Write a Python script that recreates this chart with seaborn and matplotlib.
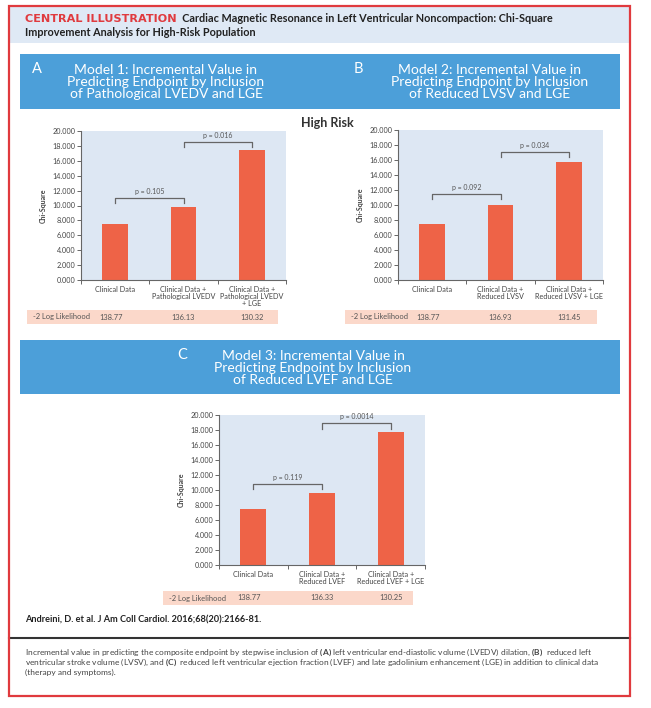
import matplotlib
matplotlib.use("Agg")
import matplotlib.pyplot as plt
import seaborn as sns
from matplotlib.patches import Rectangle
from matplotlib.ticker import FuncFormatter, FixedLocator
from matplotlib.transforms import blended_transform_factory

# --- data ---
cats_a = ["Clinical Data", "Clinical Data +\nPathological LVEDV", "Clinical Data +\nPathological LVEDV\n+ LGE"]
chi_a = [7.5, 9.8, 17.4]
loglik_a = ["138.77", "136.13", "130.32"]
pval_a = ["p = 0.105", "p = 0.016"]

cats_b = ["Clinical Data", "Clinical Data +\nReduced LVSV", "Clinical Data +\nReduced LVSV + LGE"]
chi_b = [7.5, 10.0, 15.8]
loglik_b = ["138.77", "136.93", "131.45"]
pval_b = ["p = 0.092", "p = 0.034"]

cats_c = ["Clinical Data", "Clinical Data +\nReduced LVEF", "Clinical Data +\nReduced LVEF + LGE"]
chi_c = [7.5, 9.55, 17.8]
loglik_c = ["138.77", "136.33", "130.25"]
pval_c = ["p = 0.119", "p = 0.0014"]

yticks = [0, 2, 4, 6, 8, 10, 12, 14, 16, 18, 20]

RED = "#e03a3e"
BAR = "#ee6347"
BANNER = "#4c9fd9"
HEADER = "#dfe9f5"
PLOTBG = "#dde7f3"
PINK = "#fbd8ca"
GREY = "#555555"

W, H = 651, 708
plt.rcParams["font.family"] = ["Lato", "DejaVu Sans"]
plt.rcParams["mathtext.fontset"] = "custom"
plt.rcParams["mathtext.rm"] = "Lato"
plt.rcParams["mathtext.bf"] = "Lato:bold"

fig = plt.figure(figsize=(W / 100, H / 100), dpi=100)
bg = fig.add_axes([0, 0, 1, 1])
bg.set_xlim(0, W)
bg.set_ylim(H, 0)
bg.axis("off")


def rect(x0, y0, x1, y1):
    return [x0 / W, 1 - y1 / H, (x1 - x0) / W, (y1 - y0) / H]


def box(x0, y0, x1, y1, **kw):
    bg.add_patch(Rectangle((x0, y0), x1 - x0, y1 - y0, **kw))


# frame, header, banners
box(9, 6, 630, 696, fill=False, ec=RED, lw=1.6, zorder=5)
box(10, 7, 629, 43, fc=HEADER, ec="none")
box(20, 54, 620, 109, fc=BANNER, ec="none")
box(20, 340, 620, 394, fc=BANNER, ec="none")
bg.plot([9, 630], [638, 638], color="#333333", lw=1.5)

t1 = bg.text(25, 19, "CENTRAL ILLUSTRATION", color=RED, fontsize=8.1, weight="bold",
             family="DejaVu Sans", va="center")
bg.annotate("  Cardiac Magnetic Resonance in Left Ventricular Noncompaction: Chi-Square",
            xy=(1, 0), xycoords=t1, va="bottom", ha="left", fontsize=7.8,
            weight="bold", color="#222222")
bg.text(25, 32, "Improvement Analysis for High-Risk Population", fontsize=7.8,
        weight="bold", color="#222222", va="center")

banner_kw = dict(color="white", fontsize=10, ha="center", va="center", linespacing=1.05)
bg.text(37, 69, "A", color="white", fontsize=10.5, va="center", ha="center")
bg.text(166, 82, "Model 1: Incremental Value in\nPredicting Endpoint by Inclusion\nof Pathological LVEDV and LGE",
        **banner_kw)
bg.text(358, 69, "B", color="white", fontsize=10.5, va="center", ha="center")
bg.text(490, 82, "Model 2: Incremental Value in\nPredicting Endpoint by Inclusion\nof Reduced LVSV and LGE",
        **banner_kw)
bg.text(182, 355, "C", color="white", fontsize=10.5, va="center", ha="center")
bg.text(313, 368, "Model 3: Incremental Value in\nPredicting Endpoint by Inclusion\nof Reduced LVEF and LGE",
        **banner_kw)

bg.text(327, 123, "High Risk", fontsize=9, weight="bold", color="#333333", ha="center", va="center")


def panel(axbox, table, cats, chi, loglik, pvals, brackets):
    ax = fig.add_axes(rect(*axbox))
    sns.barplot(x=cats, y=chi, ax=ax, color=BAR, saturation=1, width=0.38)
    ax.set_facecolor(PLOTBG)
    ax.set_xlim(-0.5, 2.5)
    ax.set_ylim(0, 20)
    ax.set_xlabel("")
    ax.set_ylabel("Chi-Square", fontsize=5, weight="bold", color="#444444", labelpad=4)
    for s in ["top", "right"]:
        ax.spines[s].set_visible(False)
    for s in ["left", "bottom"]:
        ax.spines[s].set_color("#666666")
        ax.spines[s].set_linewidth(0.8)
    ax.yaxis.set_major_locator(FixedLocator(yticks))
    ax.yaxis.set_major_formatter(FuncFormatter(lambda v, _: f"{v:.3f}"))
    ax.tick_params(axis="y", labelsize=5.2, colors="#666666", labelcolor="#444444",
                   length=3, width=0.7, pad=1)
    ax.tick_params(axis="x", which="major", length=0, labelsize=5.2, labelcolor="#444444", pad=4)
    ax.xaxis.set_minor_locator(FixedLocator([-0.5, 0.5, 1.5, 2.5]))
    ax.tick_params(axis="x", which="minor", length=3, width=0.7, color="#666666")
    for lab in ax.get_xticklabels():
        lab.set_linespacing(1.05)
        lab.set_va("top")

    # significance brackets
    for i, (p, b) in enumerate(zip(pvals, brackets)):
        ax.plot([i, i, i + 1, i + 1], [b - 0.7, b, b, b - 0.7], color="#666666",
                lw=0.9, clip_on=False)
        ax.text(i + 0.5, b + 0.85, p, fontsize=5, color="#555555", ha="center", va="center")

    # -2 log likelihood row
    x0, y0, x1, y1 = table
    box(x0, y0, x1, y1, fc=PINK, ec="none")
    yc = (y0 + y1) / 2
    bg.text(x0 + 6, yc, "-2 Log Likelihood", fontsize=5.4, color=GREY, va="center")
    tr = blended_transform_factory(ax.transData, bg.transData)
    for i, v in enumerate(loglik):
        bg.text(i - (0.06 if i == 0 else 0), yc, v, fontsize=5.4, color=GREY, ha="center",
                va="center", transform=tr)
    return ax


panel((81, 131, 286, 280), (27, 310, 278, 324), cats_a, chi_a, loglik_a, pval_a, [11.0, 18.5])
panel((398, 130, 603, 280), (345, 310, 597, 324), cats_b, chi_b, loglik_b, pval_b, [11.5, 17.1])
panel((219, 415, 425, 565), (163, 591, 413, 605), cats_c, chi_c, loglik_c, pval_c, [10.8, 18.9])

bg.text(25, 620, "Andreini, D. et al. J Am Coll Cardiol. 2016;68(20):2166-81.", fontsize=6.6,
        weight="bold", color="#222222", va="center")

cap_kw = dict(fontsize=6.0, color="#444444", va="center")
bg.text(25, 652, r"Incremental value in predicting the composite endpoint by stepwise inclusion of $\mathbf{(A)}$ "
        r"left ventricular end-diastolic volume (LVEDV) dilation, $\mathbf{(B)}$  reduced left", **cap_kw)
bg.text(25, 662, r"ventricular stroke volume (LVSV), and $\mathbf{(C)}$  reduced left ventricular ejection fraction "
        r"(LVEF) and late gadolinium enhancement (LGE) in addition to clinical data", **cap_kw)
bg.text(25, 672, "(therapy and symptoms).", **cap_kw)

fig.savefig("out.png", dpi=100)
